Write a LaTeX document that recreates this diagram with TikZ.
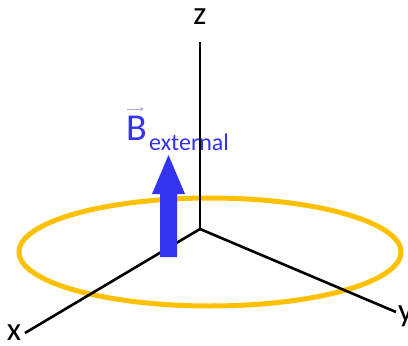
\documentclass[tikz,border=0pt]{standalone}
\usepackage{fontspec}
\setmainfont{Carlito}
\usetikzlibrary{arrows.meta}
\definecolor{ringgold}{RGB}{255,192,0}
\definecolor{fieldblue}{RGB}{51,51,240}
\definecolor{veclav}{RGB}{170,170,225}
\begin{document}
\begin{tikzpicture}[x=1pt,y=-1pt,
  axis/.style={draw=black,line width=2.6pt},
  axislabel/.style={font=\fontsize{33}{33}\selectfont,inner sep=0pt}]
\useasboundingbox (0,0) rectangle (408,346);
% ring
\draw[ringgold,line width=5pt] (210,252) ellipse [x radius=191, y radius=54];
% axes
\coordinate (O) at (200,229);
\coordinate (zend) at (200,42);
\coordinate (xend) at (25,333);
\coordinate (yend) at (396,312);
\draw[axis] (O) -- (zend);
\draw[axis] (O) -- (xend);
\draw[axis] (O) -- (yend);
\node[axislabel] (zl) at (200,17) {z};
\node[axislabel] (xl) at (14,333) {x};
\node[axislabel,anchor=north west] (yl) at (398,306) {y};
% field arrow
\fill[fieldblue] (160,257) -- (177,257) -- (177,194) -- (185,194) -- (168.5,155) -- (152,194) -- (160,194) -- cycle;
% label
\node[anchor=base west,inner sep=0pt,text=fieldblue,font=\fontsize{38}{38}\selectfont] (B) at (126,140) {B};
\node[anchor=base west,inner sep=0pt,text=fieldblue,font=\fontsize{24}{24}\selectfont] (ext) at (149,150) {external};
\coordinate (va) at (127,109);
\coordinate (vb) at (144,109);
\draw[veclav,line width=1pt,-{Stealth[length=4pt,width=4pt]}] (va) -- (vb);
\end{tikzpicture}
\end{document}
